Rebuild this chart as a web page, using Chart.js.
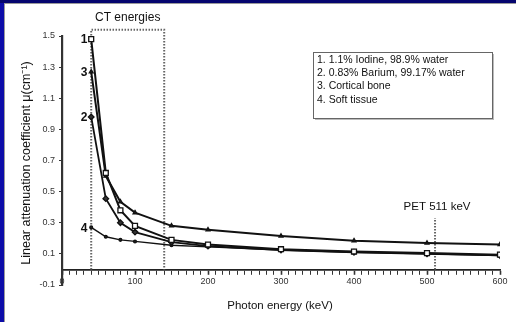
<!DOCTYPE html>
<html>
<head>
<meta charset="utf-8">
<script src="https://cdn.jsdelivr.net/npm/chart.js@4/dist/chart.umd.min.js"></script>
<style>
  html, body { margin: 0; padding: 0; background: #fff; }
  #wrap { position: relative; width: 516px; height: 322px; overflow: hidden; }
  #c { position: absolute; left: 0; top: 0; }
  .edge { position: absolute; }
</style>
</head>
<body>
<div id="wrap">
  <canvas id="c" width="516" height="322"></canvas>
  <div class="edge" style="left:0;top:0;width:4px;height:322px;background:#0c0ca8"></div>
  <div class="edge" style="left:0;top:0;width:516px;height:3px;background:#05056e"></div>
  <div class="edge" style="left:4px;top:3px;width:1px;height:319px;background:#9a9a9a"></div>
  <div class="edge" style="left:4px;top:3px;width:512px;height:1px;background:#9a9a9a"></div>
</div>
<script>
// ── DATA ─────────────────────────────────────────────
const energies = [40, 60, 80, 100, 150, 200, 300, 400, 500, 600];          // keV
const iodine   = [1.48, 0.62, 0.38, 0.28, 0.19, 0.16, 0.13, 0.115, 0.105, 0.095];
const barium   = [0.98, 0.455, 0.30, 0.24, 0.175, 0.15, 0.125, 0.11, 0.10, 0.09];
const bone     = [1.27, 0.60, 0.435, 0.365, 0.28, 0.255, 0.215, 0.185, 0.17, 0.16];
const soft     = [0.27, 0.21, 0.19, 0.18, 0.155, 0.145, 0.125, 0.11, 0.10, 0.09];

const yTicks = [-0.1, 0.1, 0.3, 0.5, 0.7, 0.9, 1.1, 1.3, 1.5];
const xLabels = [0, 100, 200, 300, 400, 500, 600];

const ctRange = [40, 140];     // CT energies box (keV)
const ctTop = 1.54;
const petEnergy = 511;
const petTop = 0.33;

const legendLines = [
  "1. 1.1% Iodine, 98.9% water",
  "2. 0.83% Barium, 99.17% water",
  "3. Cortical bone",
  "4. Soft tissue",
];
const seriesTags = ["1", "2", "3", "4"];

// ── helpers ──────────────────────────────────────────
const pts = arr => energies.map((e, i) => ({ x: e, y: arr[i] }));
const FONT = "'Liberation Sans', Arial, sans-serif";

function series(label, arr, style, radius, fill, width) {
  return {
    label, data: pts(arr),
    borderColor: "#111", borderWidth: width,
    pointStyle: style, pointRadius: radius,
    pointBackgroundColor: fill, pointBorderColor: "#111", pointBorderWidth: 1.3,
    tension: 0, fill: false,
  };
}

function guide(data) {
  return {
    label: "", data,
    borderColor: "#666", borderWidth: 2, borderDash: [1.5, 1.5],
    pointRadius: 0, tension: 0, fill: false, clip: false,
  };
}

// ── annotations (titles, labels, legend box) ─────────
const annotate = {
  id: "annotate",
  afterDraw(chart) {
    const { ctx, scales: { x, y } } = chart;
    ctx.save();
    ctx.fillStyle = "#111";
    ctx.textAlign = "center";
    ctx.textBaseline = "middle";

    // CT energies / PET labels
    ctx.font = "12px " + FONT;
    ctx.fillText("CT energies", x.getPixelForValue((ctRange[0] + ctRange[1]) / 2), 18);
    ctx.font = "11.5px " + FONT;
    ctx.fillText("PET 511 keV", x.getPixelForValue(petEnergy) + 2, 207);

    // series numbers next to first point
    ctx.font = "bold 12px " + FONT;
    const firsts = [iodine[0], barium[0], bone[0], soft[0]];
    firsts.forEach((v, i) => {
      ctx.fillText(seriesTags[i], x.getPixelForValue(energies[0]) - 7, y.getPixelForValue(v) + 1);
    });

    // axis titles
    ctx.font = "11.5px " + FONT;
    ctx.fillText("Photon energy (keV)", 280, 306);
    ctx.save();
    ctx.translate(27, 163);
    ctx.rotate(-Math.PI / 2);
    ctx.font = "12.5px " + FONT;
    ctx.fillText("Linear attenuation coefficient \u03bc(cm\u207b\u00b9)", 0, 0);
    ctx.restore();

    // legend box
    ctx.fillStyle = "#bbb";
    ctx.fillRect(315, 54, 179, 66);
    ctx.fillStyle = "#fff";
    ctx.fillRect(313, 52, 179, 66);
    ctx.strokeStyle = "#666";
    ctx.lineWidth = 1;
    ctx.strokeRect(313.5, 52.5, 179, 66);
    ctx.fillStyle = "#111";
    ctx.textAlign = "left";
    ctx.font = "10.5px " + FONT;
    legendLines.forEach((t, i) => ctx.fillText(t, 317, 60 + i * 13.3));
    ctx.restore();
  }
};

new Chart(document.getElementById("c"), {
  type: "line",
  data: {
    datasets: [
      series("1", iodine, "rect", 3.5, "#fff", 2),
      series("2", barium, "rectRot", 2.8, "#333", 1.8),
      series("3", bone, "triangle", 2.2, "#222", 2),
      series("4", soft, "circle", 1.4, "#222", 1.4),
      guide([{ x: ctRange[0], y: 0 }, { x: ctRange[0], y: ctTop }, { x: ctRange[1], y: ctTop }, { x: ctRange[1], y: 0 }]),
      guide([{ x: petEnergy, y: 0 }, { x: petEnergy, y: petTop }]),
    ],
  },
  options: {
    responsive: false,
    animation: false,
    layout: { padding: { top: 36, right: 16, bottom: 37, left: 0 } },
    plugins: { legend: { display: false }, tooltip: { enabled: false } },
    scales: {
      x: {
        type: "linear",
        position: { y: 0 },
        min: 0, max: 600,
        ticks: {
          stepSize: 10, autoSkip: false, maxRotation: 0,
          font: { family: FONT, size: 9 }, color: "#333", padding: 3,
          callback: v => xLabels.includes(v) ? String(v) : "",
        },
        grid: {
          drawOnChartArea: false, tickLength: 4, color: "#333",
          tickWidth: c => (c.tick && c.tick.value % 100 === 0 ? 1.6 : 1),
        },
        border: { color: "#222", width: 1.8 },
      },
      y: {
        min: -0.1, max: 1.5,
        afterBuildTicks: s => { s.ticks = yTicks.map(v => ({ value: v })); },
        afterFit: s => { s.width = 62; },
        ticks: {
          font: { family: FONT, size: 9 }, color: "#333", padding: 4,
          callback: v => String(Math.round(v * 10) / 10),
        },
        grid: { drawOnChartArea: false, tickLength: 3, color: "#333" },
        border: { color: "#333", width: 2.2 },
      },
    },
  },
  plugins: [annotate],
});
</script>
</body>
</html>
